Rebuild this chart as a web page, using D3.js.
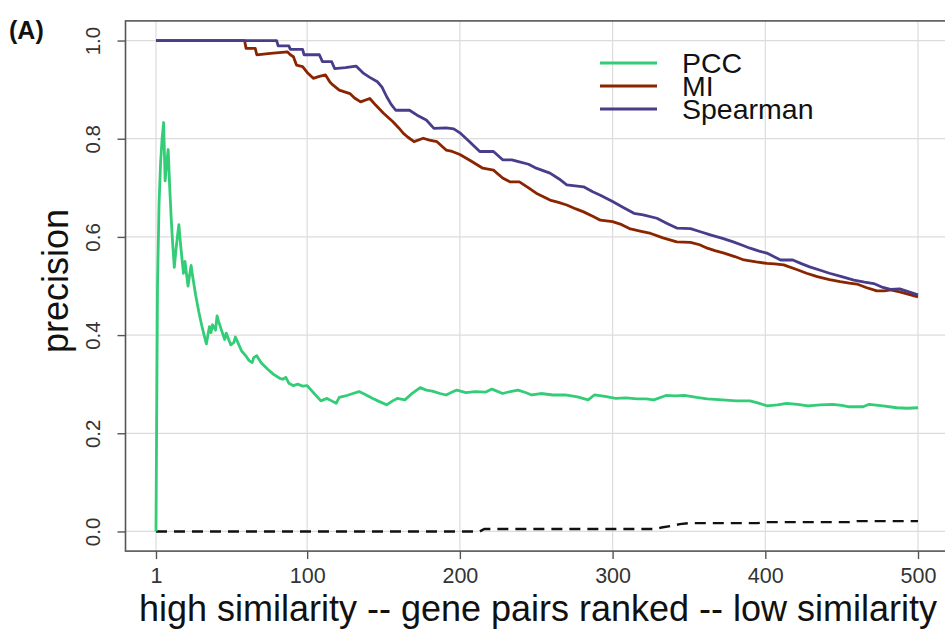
<!DOCTYPE html>
<html>
<head>
<meta charset="UTF-8"/>
<style>
  body { margin: 0; background: #fff; }
  text { font-family: "Liberation Sans", Arial, sans-serif; }
</style>
</head>
<body>
<script src="https://d3js.org/d3.v7.min.js"></script>
<script>
// ranks and precision, [rank, precision]
var pcc = [[1,0],[2,0.5],[3,0.667],[4,0.75],[5,0.8],[6,0.833],[7,0.714],[8,0.75],[9,0.778],[10,0.7],[11,0.636],[12,0.583],[13,0.538],[14,0.571],[15,0.6],[16,0.625],[17,0.588],[18,0.556],[19,0.526],[20,0.55],[21,0.524],[22,0.5],[23,0.522],[24,0.542],[25,0.52],[27,0.481],[29,0.448],[31,0.419],[33,0.394],[34,0.382],[35,0.4],[36,0.417],[37,0.405],[38,0.421],[40,0.41],[41,0.439],[42,0.428],[44,0.409],[46,0.391],[47,0.404],[49,0.388],[50,0.38],[52,0.385],[53,0.396],[55,0.382],[57,0.368],[60,0.357],[62,0.348],[64,0.344],[65,0.354],[67,0.358],[68,0.353],[70,0.343],[74,0.331],[78,0.32],[82,0.312],[84,0.31],[86,0.314],[88,0.302],[91,0.297],[94,0.3],[97,0.296],[100,0.297],[104,0.283],[109,0.266],[113,0.271],[116,0.266],[119,0.261],[121,0.273],[125,0.276],[130,0.281],[134,0.285],[138,0.279],[143,0.271],[147,0.265],[152,0.258],[156,0.266],[159,0.271],[164,0.268],[169,0.282],[174,0.293],[178,0.288],[182,0.286],[187,0.281],[191,0.278],[195,0.284],[198,0.288],[204,0.283],[210,0.285],[217,0.284],[221,0.29],[228,0.281],[233,0.285],[238,0.288],[243,0.283],[247,0.278],[253,0.281],[261,0.278],[269,0.278],[277,0.274],[284,0.268],[288,0.278],[295,0.275],[302,0.271],[309,0.272],[316,0.27],[322,0.27],[327,0.268],[335,0.277],[341,0.276],[347,0.277],[355,0.273],[362,0.27],[372,0.268],[381,0.266],[390,0.266],[395,0.262],[401,0.256],[408,0.258],[414,0.261],[421,0.259],[428,0.256],[436,0.258],[444,0.259],[450,0.257],[455,0.254],[464,0.254],[468,0.259],[477,0.256],[486,0.252],[493,0.251],[500,0.252]];

var mi = [[1,1],[59,1],[60,0.984],[66,0.984],[67,0.971],[76,0.974],[87,0.977],[89,0.971],[91,0.967],[93,0.95],[97,0.947],[100,0.935],[104,0.923],[108,0.927],[112,0.93],[115,0.915],[117,0.909],[121,0.899],[128,0.892],[131,0.883],[135,0.875],[141,0.882],[145,0.868],[150,0.852],[156,0.835],[160,0.822],[163,0.811],[166,0.803],[170,0.794],[176,0.801],[180,0.797],[185,0.794],[191,0.777],[195,0.774],[200,0.768],[207,0.755],[215,0.74],[222,0.736],[228,0.72],[233,0.712],[239,0.712],[245,0.7],[250,0.689],[259,0.675],[264,0.671],[270,0.665],[276,0.657],[281,0.651],[287,0.642],[292,0.634],[300,0.631],[306,0.625],[311,0.617],[318,0.612],[325,0.607],[333,0.598],[342,0.59],[351,0.589],[357,0.584],[362,0.577],[367,0.572],[373,0.567],[380,0.56],[386,0.553],[394,0.549],[401,0.546],[406,0.545],[412,0.543],[421,0.533],[427,0.526],[434,0.519],[442,0.513],[449,0.509],[455,0.506],[460,0.504],[466,0.497],[473,0.49],[478,0.49],[482,0.492],[488,0.488],[494,0.483],[500,0.478]];

var spearman = [[1,1],[80,1],[81,0.989],[88,0.989],[89,0.982],[97,0.982],[98,0.971],[108,0.971],[110,0.957],[116,0.957],[118,0.943],[125,0.945],[132,0.948],[137,0.933],[141,0.925],[146,0.916],[149,0.905],[152,0.886],[155,0.87],[158,0.858],[167,0.858],[172,0.848],[178,0.838],[183,0.821],[191,0.822],[196,0.82],[200,0.812],[206,0.795],[213,0.774],[222,0.774],[228,0.757],[234,0.757],[239,0.753],[245,0.748],[250,0.74],[259,0.73],[265,0.718],[270,0.706],[281,0.702],[287,0.692],[292,0.685],[300,0.672],[307,0.66],[314,0.648],[320,0.645],[329,0.638],[336,0.627],[342,0.618],[351,0.617],[357,0.611],[364,0.604],[372,0.597],[379,0.59],[385,0.583],[390,0.577],[396,0.571],[401,0.567],[410,0.553],[418,0.553],[424,0.545],[429,0.539],[436,0.532],[442,0.526],[450,0.519],[458,0.512],[465,0.508],[471,0.505],[477,0.497],[482,0.493],[488,0.494],[494,0.488],[500,0.482]];

var random = [[1,0],[213,0],[216,0.005],[328,0.005],[332,0.008],[340,0.012],[344,0.015],[350,0.017],[395,0.017],[400,0.019],[455,0.019],[460,0.021],[500,0.021]];

var seriesNames = ["PCC", "MI", "Spearman"];
var seriesColors = ["#33CC77", "#8B2500", "#483D8B"];
var xTicks = [1, 100, 200, 300, 400, 500];
var yTicks = [0, 0.2, 0.4, 0.6, 0.8, 1.0];

var width = 945, height = 631;
var svg = d3.select("body").append("svg")
    .attr("width", width)
    .attr("height", height);

// R style 4% padding around 1..500 and 0..1
var x = d3.scaleLinear().domain([1 - 499 * 0.04, 500 + 499 * 0.04]).range([125.5, 948.5]);
var y = d3.scaleLinear().domain([-0.04, 1.04]).range([551.1, 20.9]);

// grid
svg.append("g").selectAll("line").data(xTicks).enter().append("line")
    .attr("x1", d => x(d)).attr("x2", d => x(d))
    .attr("y1", y.range()[0]).attr("y2", y.range()[1])
    .attr("stroke", "#dcdcdc").attr("stroke-width", 1.2);
svg.append("g").selectAll("line").data(yTicks).enter().append("line")
    .attr("y1", d => y(d)).attr("y2", d => y(d))
    .attr("x1", x.range()[0]).attr("x2", x.range()[1])
    .attr("stroke", "#dcdcdc").attr("stroke-width", 1.2);

var line = d3.line().x(d => x(d[0])).y(d => y(d[1]));

svg.append("path").datum(random)
    .attr("d", line).attr("fill", "none")
    .attr("stroke", "#111").attr("stroke-width", 2.4)
    .attr("stroke-dasharray", "11,7");

[pcc, mi, spearman].forEach(function(s, i) {
    svg.append("path").datum(s)
        .attr("d", line).attr("fill", "none")
        .attr("stroke", seriesColors[i]).attr("stroke-width", 2.8)
        .attr("stroke-linejoin", "round");
});

// frame
svg.append("rect")
    .attr("x", x.range()[0]).attr("y", y.range()[1])
    .attr("width", x.range()[1] - x.range()[0])
    .attr("height", y.range()[0] - y.range()[1])
    .attr("fill", "none").attr("stroke", "#555").attr("stroke-width", 1.6);

// axes
var gx = svg.append("g")
    .attr("transform", "translate(0," + y.range()[0] + ")")
    .call(d3.axisBottom(x).tickValues(xTicks).tickSize(8).tickPadding(9));
gx.select(".domain").remove();
gx.selectAll("line").attr("stroke", "#555").attr("stroke-width", 1.4);
gx.selectAll("text").attr("font-size", 21.5).attr("fill", "#333")
    .style("font-family", "Liberation Sans, Arial, sans-serif");

var gy = svg.append("g")
    .attr("transform", "translate(" + x.range()[0] + ",0)")
    .call(d3.axisLeft(y).tickValues(yTicks).tickSize(8).tickFormat(d3.format(".1f")));
gy.select(".domain").remove();
gy.selectAll("line").attr("stroke", "#555").attr("stroke-width", 1.4);
gy.selectAll("text")
    .attr("font-size", 20.5).attr("fill", "#333")
    .attr("x", null).attr("dy", null)
    .attr("text-anchor", "middle")
    .attr("transform", "translate(-26,0) rotate(-90)")
    .style("font-family", "Liberation Sans, Arial, sans-serif");

// titles
svg.append("text")
    .attr("x", 538).attr("y", 621)
    .attr("text-anchor", "middle")
    .attr("font-size", 36).attr("fill", "#111")
    .text("high similarity -- gene pairs ranked -- low similarity");

svg.append("text")
    .attr("transform", "translate(68,281) rotate(-90)")
    .attr("text-anchor", "middle")
    .attr("font-size", 36).attr("fill", "#111")
    .text("precision");

svg.append("text")
    .attr("x", 9).attr("y", 39)
    .attr("font-size", 25).attr("font-weight", "bold").attr("fill", "#111")
    .text("(A)");

// legend
var legend = svg.append("g");
seriesNames.forEach(function(name, i) {
    var ly = 63 + i * 23;
    legend.append("line")
        .attr("x1", 600).attr("x2", 657)
        .attr("y1", ly).attr("y2", ly)
        .attr("stroke", seriesColors[i]).attr("stroke-width", 3);
    legend.append("text")
        .attr("x", 682).attr("y", ly + 10)
        .attr("font-size", 28.5).attr("fill", "#111")
        .text(name);
});
</script>
</body>
</html>
